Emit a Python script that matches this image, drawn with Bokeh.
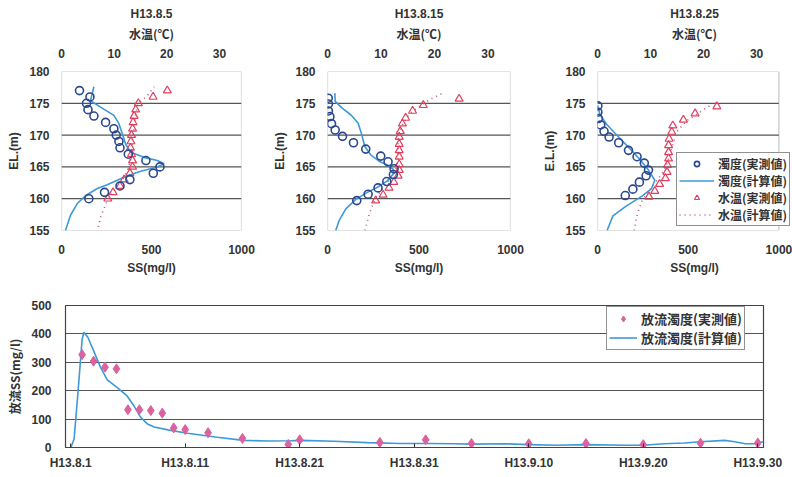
from bokeh.plotting import figure
from bokeh.models import Range1d, LinearAxis, FixedTicker, Legend, LegendItem, BoxAnnotation
from bokeh.layouts import column, row
from bokeh.embed import file_html
from bokeh.resources import INLINE

# ---------------- profile data (elevation in m) ----------------
# H13.8.5
p1_ss_obs_el = [177, 176, 175, 174, 173, 172, 171, 170, 169, 168, 167, 166, 165, 164, 163, 162, 161, 160]
p1_ss_obs = [100, 158, 139, 147, 180, 245, 291, 304, 319, 325, 371, 469, 547, 510, 380, 325, 239, 152]
p1_ss_calc_el = [177.6, 175.4, 174.4, 173.1, 171.8, 170.2, 168.6, 167.3, 166.5, 166.0, 165.5, 165.0, 164.3, 163.6, 162.9, 162.2, 161.6, 160.5, 159.2, 157.4, 155.0]
p1_ss_calc = [180, 161, 217, 291, 319, 338, 356, 384, 458, 532, 570, 532, 440, 365, 310, 254, 199, 134, 87, 50, 22]
p1_t_obs_el = [177, 176, 175, 174, 173, 172, 171, 170, 169, 168, 167, 166, 165, 164, 163, 162, 161, 160]
p1_t_obs = [20.1, 17.4, 14.6, 14.1, 13.8, 13.6, 13.5, 13.3, 13.2, 13.1, 13.3, 13.5, 13.5, 13.0, 11.9, 11.1, 9.8, 8.8]
p1_t_calc_el = [154.8, 157.1, 159.7, 161.8, 163.4, 165.0, 167.0, 169.2, 171.2, 173.3, 174.9, 176.2, 177.6]
p1_t_calc = [6.8, 7.4, 8.7, 10.3, 11.9, 12.8, 13.3, 13.5, 13.8, 14.1, 14.5, 16.3, 17.6]

# H13.8.15
p2_ss_obs_el = [175.8, 174.9, 173.8, 172.9, 171.8, 170.8, 169.8, 168.8, 167.8, 166.7, 165.8, 164.7, 163.8, 162.7, 161.7, 160.7, 159.7]
p2_ss_obs = [4, 5, 5, 13, 22, 42, 82, 142, 209, 291, 331, 364, 360, 324, 276, 222, 160]
p2_ss_calc_el = [176.6, 175.3, 174.2, 173.2, 171.9, 170.3, 168.2, 166.9, 165.9, 165.3, 164.6, 163.9, 162.8, 161.8, 161.0, 159.9, 158.4, 156.6, 155.0]
p2_ss_calc = [40, 42, 82, 127, 167, 185, 204, 236, 282, 327, 360, 360, 327, 273, 218, 155, 100, 64, 45]
p2_t_obs_el = [175.7, 174.7, 173.8, 172.7, 171.8, 170.6, 169.7, 168.6, 167.6, 166.6, 165.4, 164.5, 163.6, 162.6, 161.7, 160.6, 159.7]
p2_t_obs = [24.6, 17.9, 15.9, 14.6, 14.0, 13.6, 13.4, 13.4, 13.4, 13.4, 13.4, 13.4, 13.2, 12.4, 11.5, 10.4, 9.0]
p2_t_calc_el = [155.0, 157.6, 160.2, 162.2, 164.3, 166.4, 169.0, 170.6, 171.6, 173.2, 174.7, 175.8, 176.7]
p2_t_calc = [7.0, 7.8, 9.0, 10.9, 12.7, 13.2, 13.2, 13.4, 14.0, 15.2, 17.4, 19.6, 21.8]

# H13.8.25
p3_ss_obs_el = [174.6, 173.6, 172.6, 171.6, 170.6, 169.7, 168.8, 167.6, 166.6, 165.6, 164.5, 163.6, 162.6, 161.5, 160.5]
p3_ss_obs = [2, 2, 5, 18, 36, 64, 117, 171, 218, 258, 281, 268, 231, 195, 153]
p3_ss_calc_el = [174.7, 173.2, 171.7, 170.1, 168.0, 166.1, 164.5, 162.9, 161.6, 160.4, 158.8, 157.3, 155.0]
p3_ss_calc = [0, 14, 50, 103, 174, 236, 281, 316, 298, 245, 156, 85, 53]
p3_t_obs_el = [174.5, 173.4, 172.4, 171.5, 170.5, 169.4, 168.4, 167.3, 166.3, 165.3, 164.2, 163.2, 162.3, 161.2, 160.3]
p3_t_obs = [22.5, 18.4, 16.2, 14.2, 14.0, 13.5, 13.4, 13.4, 13.4, 13.2, 13.1, 12.8, 11.7, 10.8, 9.7]
p3_t_calc_el = [155.0, 157.6, 159.7, 161.8, 164.4, 166.5, 168.6, 170.7, 172.3, 173.6, 174.9]
p3_t_calc = [6.9, 7.5, 8.4, 10.2, 12.6, 13.5, 14.2, 15.1, 16.9, 19.3, 21.7]

# axis limits and ticks shared by the profiles
ss_lim = (0, 1000)
temp_lim = (0, 34.2)
el_lim = (155, 180)
ss_ticks = [0, 500, 1000]
temp_ticks = [0, 10, 20, 30]
el_ticks = [155, 160, 165, 170, 175, 180]
el_grid = [160, 165, 170, 175]

# ---------------- discharge turbidity (day 0 = H13.8.1) ----------------
obs_day = [1, 2, 3, 4, 5, 6, 7, 8, 9, 10, 12, 15, 19, 20, 27, 31, 35, 40, 45, 50, 55, 60]
obs_ss = [327, 304, 283, 277, 133, 133, 130, 121, 69, 63, 52, 32, 11, 27, 18, 27, 14, 13, 14, 10, 15, 16]
calc_day = [-0.45, 0.0, 0.3, 0.55, 0.75, 1.0, 1.15, 1.5, 2.0, 2.6, 3.2, 4.1, 4.9, 5.5, 6.1, 6.7, 7.3, 8.5,
            10.2, 12.8, 15.1, 17.2, 19.2, 20.1, 23.0, 25.9, 28.8, 31.1, 33.6, 35.0, 38.0, 40.0, 42.5,
            45.0, 48.4, 50.0, 51.8, 53.6, 55.0, 57.1, 58.0, 58.9, 59.7, 60.5]
calc_ss = [-2, -2, 30, 150, 250, 380, 406, 388, 341, 283, 238, 210, 183, 148, 107, 83, 72, 62,
           50, 36, 25, 23, 24, 25, 22, 17, 14, 14, 13, 12, 13, 10, 8,
           10, 8, 8, 13, 16, 20, 25, 20, 13, 13, 20]

tick_days = [0, 10, 20, 30, 40, 50, 60]
tick_labels = ["H13.8.1", "H13.8.11", "H13.8.21", "H13.8.31", "H13.9.10", "H13.9.20", "H13.9.30"]

FONT = "Liberation Sans"
JP = "Noto Sans CJK JP"
BLUE_PT = "#2b4790"
BLUE_LN = "#3d9ad6"
RED = "#e0405e"
DOT = "#b05a8c"
PINK = "#d9629f"
GRID = "#555555"
EDGE = "#444444"


def style_axis(ax, size="12px"):
    ax.major_label_text_font = FONT
    ax.major_label_text_font_style = "bold"
    ax.major_label_text_font_size = size
    ax.major_label_text_color = "#333333"
    ax.axis_line_color = None
    ax.major_tick_line_color = None
    ax.minor_tick_line_color = None
    ax.axis_label_text_font = JP
    ax.axis_label_text_font_style = "bold"
    ax.axis_label_text_font_size = "12px"
    ax.axis_label_text_color = "#333333"


def style_legend(lg, size):
    lg.label_text_font = JP
    lg.label_text_font_size = size
    lg.label_text_font_style = "bold"
    lg.label_text_color = "#333333"
    lg.label_standoff = 4
    lg.spacing = 0
    lg.padding = 2
    lg.margin = 0
    lg.border_line_color = "#222222"
    lg.border_line_width = 1.2
    lg.background_fill_alpha = 1


def profile(title, ylab, width, left, right, box_w, ss_el, ss, ssc_el, ssc, t_el, t, tc_el, tc, legend=False):
    # the plotting box is box_w px wide; any extra frame width on the right
    # stays empty so a legend can hang over the box edge
    frame_w = width - left - right
    k = frame_w / box_w
    p = figure(width=width, height=280,
               x_range=Range1d(ss_lim[0], ss_lim[1] * k), y_range=Range1d(*el_lim),
               output_backend="svg", toolbar_location=None,
               min_border_left=left, min_border_right=right, min_border_top=71, min_border_bottom=50)
    p.extra_x_ranges = {"t": Range1d(temp_lim[0], temp_lim[1] * k)}
    p.outline_line_color = None
    p.grid.visible = False

    # horizontal grid lines and the box around the data area
    p.segment(x0=[ss_lim[0]] * len(el_grid), x1=[ss_lim[1]] * len(el_grid), y0=el_grid, y1=el_grid,
              line_color=GRID, line_width=1.2)
    p.add_layout(BoxAnnotation(left=ss_lim[0], right=ss_lim[1], bottom=el_lim[0], top=el_lim[1],
                               fill_alpha=0, line_color=EDGE, line_width=1.2, level="underlay"))

    p.xaxis.ticker = FixedTicker(ticks=ss_ticks)
    p.xaxis.axis_label = "SS(mg/l)"
    p.yaxis.ticker = FixedTicker(ticks=el_ticks)
    p.yaxis.axis_label = ylab
    style_axis(p.xaxis[0])
    style_axis(p.yaxis[0])
    p.xaxis.axis_label_text_font = FONT
    p.yaxis.axis_label_text_font = FONT
    p.xaxis.major_label_standoff = 8
    p.xaxis.axis_label_standoff = 4
    p.yaxis.major_label_standoff = 6

    top = LinearAxis(x_range_name="t", ticker=FixedTicker(ticks=temp_ticks), axis_label="水温(℃)")
    style_axis(top)
    top.major_label_standoff = 8
    top.axis_label_standoff = 4
    p.add_layout(top, "above")

    p.title.text = title
    p.title.align = "center"
    p.title.offset = -(frame_w - box_w) / 2
    p.title.text_font = FONT
    p.title.text_font_size = "12px"
    p.title.text_font_style = "bold"
    p.title.text_color = "#333333"
    p.title.standoff = 2

    r_tc = p.line(tc, tc_el, x_range_name="t", line_color=DOT, line_width=1.6, line_dash="1 4")
    r_ssc = p.line(ssc, ssc_el, line_color=BLUE_LN, line_width=1.6)
    r_t = p.scatter(t, t_el, x_range_name="t", marker="triangle", size=8,
                    fill_color=None, line_color=RED, line_width=1.2)
    r_ss = p.scatter(ss, ss_el, marker="circle", size=8, fill_color=None,
                     line_color=BLUE_PT, line_width=1.6)

    if legend:
        lg = Legend(items=[LegendItem(label="濁度(実測値)", renderers=[r_ss]),
                           LegendItem(label="濁度(計算値)", renderers=[r_ssc]),
                           LegendItem(label="水温(実測値)", renderers=[r_t]),
                           LegendItem(label="水温(計算値)", renderers=[r_tc])],
                    location=(79, 4))
        style_legend(lg, "12px")
        lg.label_height = 13
        lg.glyph_height = 13
        lg.glyph_width = 35
        p.add_layout(lg, "center")
    return p


p1 = profile("H13.8.5", "EL.(m)", 270, 61, 29, 180,
             p1_ss_obs_el, p1_ss_obs, p1_ss_calc_el, p1_ss_calc,
             p1_t_obs_el, p1_t_obs, p1_t_calc_el, p1_t_calc)
p2 = profile("H13.8.15", "EL.(m)", 270, 57, 30, 183,
             p2_ss_obs_el, p2_ss_obs, p2_ss_calc_el, p2_ss_calc,
             p2_t_obs_el, p2_t_obs, p2_t_calc_el, p2_t_calc)
p3 = profile("H13.8.25", "E.L.(m)", 252, 51, 1, 187,
             p3_ss_obs_el, p3_ss_obs, p3_ss_calc_el, p3_ss_calc,
             p3_t_obs_el, p3_t_obs, p3_t_calc_el, p3_t_calc, legend=True)

# ---------------- time series ----------------
p4 = figure(width=792, height=197, x_range=Range1d(-0.45, 60.5), y_range=Range1d(0, 500),
            output_backend="svg", toolbar_location=None,
            min_border_left=65, min_border_right=29, min_border_top=25, min_border_bottom=30)
p4.outline_line_color = EDGE
p4.outline_line_width = 1.2
p4.xgrid.visible = False
p4.ygrid.ticker = FixedTicker(ticks=[100, 200, 300, 400])
p4.ygrid.grid_line_color = GRID
p4.ygrid.grid_line_width = 1.2
p4.yaxis.ticker = FixedTicker(ticks=[0, 100, 200, 300, 400, 500])
p4.yaxis.axis_label = "放流SS(mg/l)"
p4.xaxis.ticker = FixedTicker(ticks=tick_days)
p4.xaxis.major_label_overrides = {d: lab for d, lab in zip(tick_days, tick_labels)}
style_axis(p4.xaxis[0])
style_axis(p4.yaxis[0])
p4.xaxis.major_tick_line_color = "#333333"
p4.xaxis.major_tick_in = 4
p4.xaxis.major_tick_out = 0
p4.xaxis.axis_line_color = EDGE
p4.xaxis.major_label_standoff = 8
p4.yaxis.major_label_standoff = 8

r_c = p4.line(calc_day, calc_ss, line_color=BLUE_LN, line_width=1.6)
r_o = p4.scatter(obs_day, obs_ss, marker="diamond", size=10, fill_color=PINK, line_color=PINK)

lg4 = Legend(items=[LegendItem(label="放流濁度(実測値)", renderers=[r_o]),
                    LegendItem(label="放流濁度(計算値)", renderers=[r_c])],
             location=(541, 97))
style_legend(lg4, "13px")
lg4.label_height = 15
lg4.glyph_height = 15
lg4.glyph_width = 28
p4.add_layout(lg4, "center")

layout = column(row(p1, p2, p3), p4)
open("out.html", "w").write(file_html(layout, INLINE))
